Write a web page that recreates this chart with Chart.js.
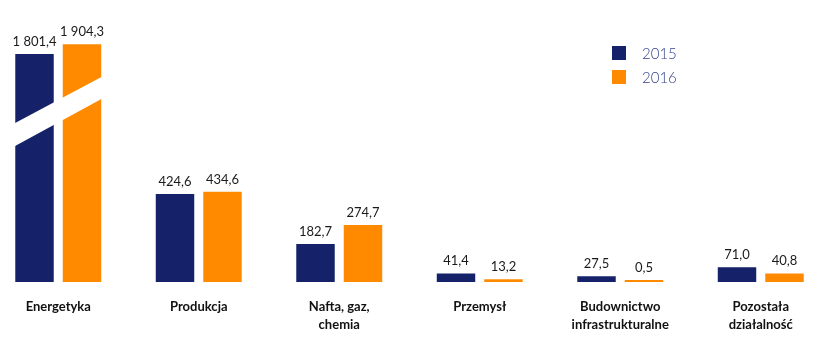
<!DOCTYPE html>
<html>
<head>
<meta charset="utf-8">
<script src="https://cdn.jsdelivr.net/npm/chart.js@4/dist/chart.umd.min.js"></script>
<style>
  html, body { margin: 0; padding: 0; background: #fff; overflow: hidden; }
  #wrap { position: absolute; left: -12px; top: 0; width: 843px; height: 347px; }
</style>
</head>
<body>
<div id="wrap"><canvas id="sectors" width="843" height="347"></canvas></div>
<script>
// categories along the x-axis
const sectors = [
  'Energetyka',
  'Produkcja',
  ['Nafta, gaz,', 'chemia'],
  'Przemysł',
  ['Budownictwo', 'infrastrukturalne'],
  ['Pozostała', 'działalność']
];
const years = ['2015', '2016'];
// values per year
const values2015 = [1801.4, 424.6, 182.7, 41.4, 27.5, 71.0];
const values2016 = [1904.3, 434.6, 274.7, 13.2, 0.5, 40.8];

const NAVY = '#15226a';
const ORANGE = '#ff8a00';

// axis break: everything above breakAt is squeezed
const breakAt = 500;
const squeeze = 0.46;

class BrokenScale extends Chart.LinearScale {
  squash(v) {
    return v > breakAt ? breakAt + (v - breakAt) * squeeze : v;
  }
  getPixelForValue(value) {
    return super.getPixelForValue(this.squash(value));
  }
}
BrokenScale.id = 'broken';
BrokenScale.defaults = Chart.LinearScale.defaults;
Chart.register(BrokenScale);

const fmt = v => {
  const [i, d] = v.toFixed(1).split('.');
  return i.replace(/\B(?=(\d{3})+(?!\d))/g, ' ') + ',' + d;
};

// value labels above the bars
const valueLabels = {
  id: 'valueLabels',
  afterDatasetsDraw(chart) {
    const { ctx } = chart;
    ctx.save();
    ctx.font = '13px Lato';
    ctx.fillStyle = '#1a1a1a';
    ctx.textAlign = 'center';
    ctx.textBaseline = 'bottom';
    chart.data.datasets.forEach((ds, di) => {
      chart.getDatasetMeta(di).data.forEach((bar, i) => {
        ctx.fillText(fmt(ds.data[i]), bar.x, bar.y - 6);
      });
    });
    ctx.restore();
  }
};

// white diagonal gap across the first (too tall) pair of bars
const axisBreak = {
  id: 'axisBreak',
  afterDatasetsDraw(chart) {
    const { ctx } = chart;
    const a = chart.getDatasetMeta(0).data[0];
    const b = chart.getDatasetMeta(1).data[0];
    const base = a.base;
    const left = a.x - a.width / 2 - 2;
    const right = b.x + b.width / 2 + 2;
    ctx.save();
    ctx.fillStyle = '#fff';
    ctx.beginPath();
    ctx.moveTo(left, base - 158);
    ctx.lineTo(right, base - 206);
    ctx.lineTo(right, base - 184);
    ctx.lineTo(left, base - 135);
    ctx.closePath();
    ctx.fill();
    ctx.restore();
  }
};

// legend in the upper right
const sideLegend = {
  id: 'sideLegend',
  afterDraw(chart) {
    const { ctx } = chart;
    ctx.save();
    ctx.font = '300 15px Lato';
    ctx.textBaseline = 'middle';
    chart.data.datasets.forEach((ds, i) => {
      const y = 46 + i * 24;
      ctx.fillStyle = ds.backgroundColor;
      ctx.fillRect(624, y, 14, 14);
      ctx.fillStyle = '#34428a';
      ctx.fillText(ds.label, 654, y + 8);
    });
    ctx.restore();
  }
};

const ctx = document.getElementById('sectors');
new Chart(ctx, {
  type: 'bar',
  data: {
    labels: sectors,
    datasets: [
      { label: years[0], data: values2015, backgroundColor: NAVY },
      { label: years[1], data: values2016, backgroundColor: ORANGE }
    ]
  },
  options: {
    responsive: false,
    animation: false,
    layout: { padding: 0 },
    datasets: { bar: { categoryPercentage: 0.676, barPercentage: 0.81, minBarLength: 2 } },
    plugins: { legend: { display: false }, tooltip: { enabled: false } },
    scales: {
      x: {
        grid: { display: false },
        border: { display: false },
        afterFit: s => { s.height = 65; },
        ticks: {
          padding: 8,
          color: '#111',
          maxRotation: 0,
          autoSkip: false,
          font: { family: 'Lato', size: 13, weight: 'bold', lineHeight: 1.4 }
        }
      },
      y: {
        type: 'broken',
        display: false,
        min: 0,
        max: 1359
      }
    }
  },
  plugins: [valueLabels, axisBreak, sideLegend]
});
</script>
</body>
</html>
